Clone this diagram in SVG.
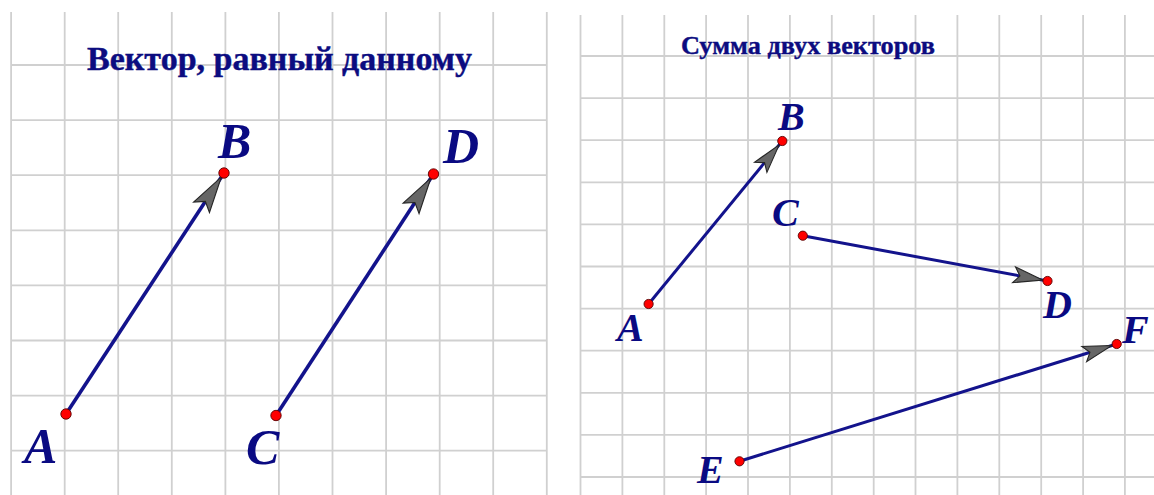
<svg xmlns="http://www.w3.org/2000/svg" width="1154" height="495" viewBox="0 0 1154 495">
<defs>
<style>
.grid line{stroke:#d0d0d0;stroke-width:1.8}
.vec{stroke:#13138c;stroke-width:3.6;fill:none}
.vec2{stroke:#13138c;stroke-width:3;fill:none}
.pt{fill:#ff0000;stroke:#5a0000;stroke-width:0.9}
.lbl{font-family:"Liberation Serif","Times New Roman",serif;font-weight:bold;font-style:italic;fill:#0a0a82}
.big{font-size:50px}
.small{font-size:40px}
.title{font-family:"Liberation Serif","Times New Roman",serif;font-weight:bold;fill:#0c0c80;stroke:#0c0c80;stroke-width:0.4}
</style>
<marker id="ahL" markerUnits="userSpaceOnUse" orient="auto" refX="0" refY="0" markerWidth="60" markerHeight="30" viewBox="-45 -15 50 30" overflow="visible">
<path d="M-5,0 L-41,-9.5 L-34,0 L-41,9.5 Z" fill="#666666" stroke="#262626" stroke-width="1.1"/>
</marker>
<marker id="ahS" markerUnits="userSpaceOnUse" orient="auto" refX="0" refY="0" markerWidth="60" markerHeight="30" viewBox="-45 -15 50 30" overflow="visible">
<path d="M-5,0 L-34,-8 L-28,0 L-34,8 Z" fill="#666666" stroke="#262626" stroke-width="1.1"/>
</marker>
</defs>
<rect width="1154" height="495" fill="#ffffff"/>
<g id="grid-left" class="grid">
<line x1="11.1" y1="12" x2="11.1" y2="495"/>
<line x1="64.7" y1="12" x2="64.7" y2="495"/>
<line x1="118.2" y1="12" x2="118.2" y2="495"/>
<line x1="171.8" y1="12" x2="171.8" y2="495"/>
<line x1="225.4" y1="12" x2="225.4" y2="495"/>
<line x1="278.9" y1="12" x2="278.9" y2="495"/>
<line x1="332.5" y1="12" x2="332.5" y2="495"/>
<line x1="386.1" y1="12" x2="386.1" y2="495"/>
<line x1="439.7" y1="12" x2="439.7" y2="495"/>
<line x1="493.2" y1="12" x2="493.2" y2="495"/>
<line x1="546.8" y1="12" x2="546.8" y2="495"/>
<line x1="11.1" y1="65" x2="546.8" y2="65"/>
<line x1="11.1" y1="120.1" x2="546.8" y2="120.1"/>
<line x1="11.1" y1="175.2" x2="546.8" y2="175.2"/>
<line x1="11.1" y1="230.3" x2="546.8" y2="230.3"/>
<line x1="11.1" y1="285.4" x2="546.8" y2="285.4"/>
<line x1="11.1" y1="340.5" x2="546.8" y2="340.5"/>
<line x1="11.1" y1="395.6" x2="546.8" y2="395.6"/>
<line x1="11.1" y1="450.7" x2="546.8" y2="450.7"/>
</g>
<g id="grid-right" class="grid">
<line x1="580.5" y1="15" x2="580.5" y2="495"/>
<line x1="622.4" y1="15" x2="622.4" y2="495"/>
<line x1="664.3" y1="15" x2="664.3" y2="495"/>
<line x1="706.1" y1="15" x2="706.1" y2="495"/>
<line x1="748" y1="15" x2="748" y2="495"/>
<line x1="789.9" y1="15" x2="789.9" y2="495"/>
<line x1="831.8" y1="15" x2="831.8" y2="495"/>
<line x1="873.7" y1="15" x2="873.7" y2="495"/>
<line x1="915.5" y1="15" x2="915.5" y2="495"/>
<line x1="957.4" y1="15" x2="957.4" y2="495"/>
<line x1="999.3" y1="15" x2="999.3" y2="495"/>
<line x1="1041.2" y1="15" x2="1041.2" y2="495"/>
<line x1="1083.1" y1="15" x2="1083.1" y2="495"/>
<line x1="1124.9" y1="15" x2="1124.9" y2="495"/>
<line x1="580.5" y1="56" x2="1154" y2="56"/>
<line x1="580.5" y1="98.1" x2="1154" y2="98.1"/>
<line x1="580.5" y1="140.2" x2="1154" y2="140.2"/>
<line x1="580.5" y1="182.3" x2="1154" y2="182.3"/>
<line x1="580.5" y1="224.4" x2="1154" y2="224.4"/>
<line x1="580.5" y1="266.5" x2="1154" y2="266.5"/>
<line x1="580.5" y1="308.6" x2="1154" y2="308.6"/>
<line x1="580.5" y1="350.7" x2="1154" y2="350.7"/>
<line x1="580.5" y1="392.8" x2="1154" y2="392.8"/>
<line x1="580.5" y1="434.9" x2="1154" y2="434.9"/>
<line x1="580.5" y1="477" x2="1154" y2="477"/>
</g>
<g id="titles">
<text class="title" x="87" y="70" font-size="33" textLength="385" lengthAdjust="spacingAndGlyphs">Вектор, равный данному</text>
<text class="title" x="681" y="54" font-size="26" textLength="254" lengthAdjust="spacingAndGlyphs">Сумма двух векторов</text>
</g>
<g id="connectors">
<line class="vec" x1="66" y1="414" x2="224" y2="173" marker-end="url(#ahL)"/>
<line class="vec" x1="276" y1="415.5" x2="433.5" y2="174" marker-end="url(#ahL)"/>
<line class="vec2" x1="648.6" y1="304" x2="782.3" y2="141" marker-end="url(#ahS)"/>
<line class="vec2" x1="802.8" y1="235.7" x2="1047.5" y2="281" marker-end="url(#ahS)"/>
<line class="vec2" x1="739.5" y1="461.3" x2="1116.7" y2="344" marker-end="url(#ahS)"/>
</g>
<g id="node-A1"><circle class="pt" cx="66" cy="414" r="5.2"/><text class="lbl big" x="24" y="463">A</text></g>
<g id="node-B1"><circle class="pt" cx="224" cy="173" r="5.2"/><text class="lbl big" x="218" y="158">B</text></g>
<g id="node-C1"><circle class="pt" cx="276" cy="415.5" r="5.2"/><text class="lbl big" x="246" y="464">C</text></g>
<g id="node-D1"><circle class="pt" cx="433.5" cy="174" r="5.2"/><text class="lbl big" x="443" y="163">D</text></g>
<g id="node-A2"><circle class="pt" cx="648.6" cy="304" r="4.6"/><text class="lbl small" x="617" y="341">A</text></g>
<g id="node-B2"><circle class="pt" cx="782.3" cy="141" r="4.6"/><text class="lbl small" x="778" y="130">B</text></g>
<g id="node-C2"><circle class="pt" cx="802.8" cy="235.7" r="4.6"/><text class="lbl small" x="772" y="226">C</text></g>
<g id="node-D2"><circle class="pt" cx="1047.5" cy="281" r="4.6"/><text class="lbl small" x="1043" y="318">D</text></g>
<g id="node-E2"><circle class="pt" cx="739.5" cy="461.3" r="4.6"/><text class="lbl small" x="697" y="483">E</text></g>
<g id="node-F2"><circle class="pt" cx="1116.7" cy="344" r="4.6"/><text class="lbl small" x="1122" y="343">F</text></g>
</svg>
